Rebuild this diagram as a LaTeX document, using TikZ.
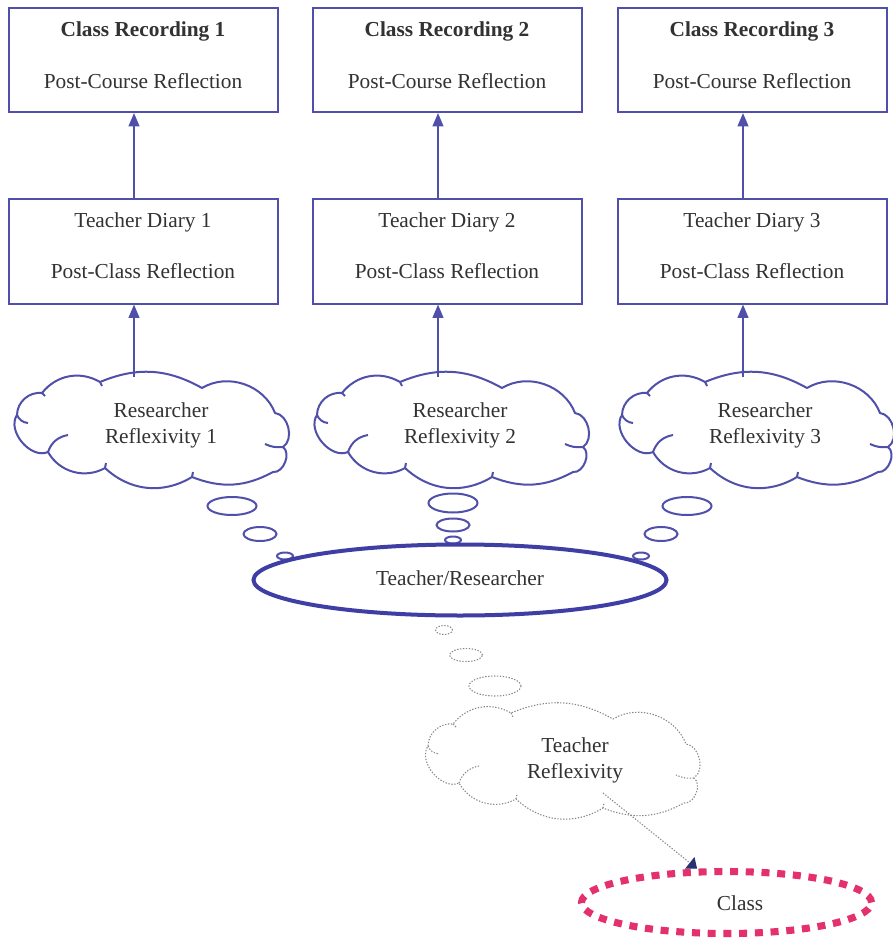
\documentclass[tikz,border=0pt]{standalone}
\usepackage{fontspec}
\setmainfont{Liberation Serif}
\usetikzlibrary{shapes.geometric,arrows.meta}
\definecolor{boxblue}{RGB}{80,80,170}
\definecolor{ellblue}{RGB}{62,62,165}
\definecolor{txt}{RGB}{50,50,50}
\definecolor{pinkred}{RGB}{228,48,108}
\definecolor{dotgray}{RGB}{135,135,135}
\definecolor{tipnavy}{RGB}{40,50,115}
\begin{document}
\begin{tikzpicture}[x=0.75pt,y=-0.75pt,
  fnt/.style={font=\fontsize{16}{19.5}\selectfont},
  lbl/.style={fnt, text=txt, align=center, inner sep=0pt},
  bld/.style={lbl, font=\fontsize{16}{19.5}\selectfont\bfseries},
  box/.style={draw=boxblue, line width=1.5pt, rectangle, minimum width=269*0.75pt, minimum height=104*0.75pt, inner sep=0pt},
  bsz/.style 2 args={minimum width=#1*0.75pt, minimum height=#2*0.75pt},
  bub/.style={ellipse, draw=boxblue, line width=1.5pt, inner sep=0pt},
  blueline/.style={draw=boxblue, line width=1.5pt, line join=round},
  gdot/.style={draw=dotgray, line width=0.8pt, dash pattern=on 1pt off 1.2pt},
  gbub/.style={ellipse, gdot, inner sep=0pt},
  arr/.style={draw=boxblue, line width=1.5pt, -{Triangle[width=8pt,length=10pt,fill=boxblue]}},
  wcloud/.pic={
    \draw[pic actions] (-135,-16) to[bend left=48] (-110,-38) to[bend left=41] (-52,-49)
      to[bend left=26] (50,-43) to[bend left=50] (123,-18) to[bend left=70] (131,16)
      to[bend left=75] (121,41) to[bend left=25] (40,46) to[bend left=37] (-47,37)
      to[bend left=45] (-104,21) to[bend left=74] cycle;
    \draw[pic actions] (-135,-16) to[bend right=30] (-124,-8);
    \draw[pic actions] (-104,21) to[bend left=30] (-84,4);
    \draw[pic actions] (131,16) to[bend left=15] (113,13);
    \draw[pic actions] (-47,37) -- (-46,32);
    \draw[pic actions] (40,46) -- (41,41);
    \draw[pic actions] (-52,-49) -- (-50,-45);
    \draw[pic actions] (-110,-38) -- (-107,-35);
    \coordinate (-top) at (-16,-54);
    \coordinate (-out) at (40,31);
  }
]
\useasboundingbox (0,0) rectangle (892,941);
\fill[white] (0,0) rectangle (892,941);

% top boxes
\node[box] (cr1) at (143,60) {};
\node[box] (cr2) at (447,60) {};
\node[box] (cr3) at (752,60) {};
\node[bld] (cr1a) at (143,31) {Class Recording 1};
\node[bld] (cr2a) at (447,31) {Class Recording 2};
\node[bld] (cr3a) at (752,31) {Class Recording 3};
\node[lbl] (cr1b) at (143,81) {Post-Course Reflection};
\node[lbl] (cr2b) at (447,81) {Post-Course Reflection};
\node[lbl] (cr3b) at (752,81) {Post-Course Reflection};

% middle boxes
\node[box] (td1) at (143,251.5) {};
\node[box] (td2) at (447,251.5) {};
\node[box] (td3) at (752,251.5) {};
\node[lbl] (td1a) at (143,222) {Teacher Diary 1};
\node[lbl] (td2a) at (447,222) {Teacher Diary 2};
\node[lbl] (td3a) at (752,222) {Teacher Diary 3};
\node[lbl] (td1b) at (143,271) {Post-Class Reflection};
\node[lbl] (td2b) at (447,271) {Post-Class Reflection};
\node[lbl] (td3b) at (752,271) {Post-Class Reflection};

% researcher clouds
\pic[blueline] (rr1) at (152,431) {wcloud};
\pic[blueline] (rr2) at (452,431) {wcloud};
\pic[blueline] (rr3) at (757,431) {wcloud};
\node[lbl] (rr1t) at (161,425) {Researcher\\Reflexivity 1};
\node[lbl] (rr2t) at (460,425) {Researcher\\Reflexivity 2};
\node[lbl] (rr3t) at (765,425) {Researcher\\Reflexivity 3};

% arrow columns
\coordinate (a1) at (134,0);
\coordinate (a2) at (438,0);
\coordinate (a3) at (743,0);
\draw[arr] (a1 |- rr1-top) -- (a1 |- td1.south);
\draw[arr] (a2 |- rr2-top) -- (a2 |- td2.south);
\draw[arr] (a3 |- rr3-top) -- (a3 |- td3.south);
\draw[arr] (a1 |- td1.north) -- (a1 |- cr1.south);
\draw[arr] (a2 |- td2.north) -- (a2 |- cr2.south);
\draw[arr] (a3 |- td3.north) -- (a3 |- cr3.south);

% thought bubbles
\node[bub, bsz={49}{18}] (b11) at (232,506) {};
\node[bub, bsz={33}{14}] (b12) at (260,534) {};
\node[bub, bsz={16}{7}]  (b13) at (285,556) {};
\node[bub, bsz={49}{19}] (b21) at (453,503) {};
\node[bub, bsz={33}{13}] (b22) at (453,525) {};
\node[bub, bsz={16}{7}]  (b23) at (453,540) {};
\node[bub, bsz={49}{18}] (b31) at (687,506) {};
\node[bub, bsz={33}{14}] (b32) at (661,534) {};
\node[bub, bsz={16}{7}]  (b33) at (641,556) {};

% teacher/researcher
\node[ellipse, draw=ellblue, line width=3pt, inner sep=0pt, bsz={413}{71}] (tr) at (460,580) {};
\node[lbl] (trt) at (460,578) {Teacher/Researcher};

% gray bubbles
\node[gbub, bsz={17}{9}]  (g1) at (444,630) {};
\node[gbub, bsz={33}{13}] (g2) at (466,655) {};
\node[gbub, bsz={52}{20}] (g3) at (495,686) {};

% teacher reflexivity cloud
\pic[gdot] (trc) at (563,762) {wcloud};
\node[lbl] (trct) at (575,760) {Teacher\\Reflexivity};

% class
\node[ellipse, draw=pinkred, line width=5.3pt, dash pattern=on 6pt off 5.8pt, inner sep=0pt, bsz={290}{62}] (cls) at (726.5,902.5) {};
\node[lbl] (clst) at (740,903) {Class};

\draw[gdot, -{Triangle[width=11pt,length=7pt,fill=tipnavy,color=tipnavy]}] (trc-out) -- (cls.131);
\end{tikzpicture}
\end{document}
